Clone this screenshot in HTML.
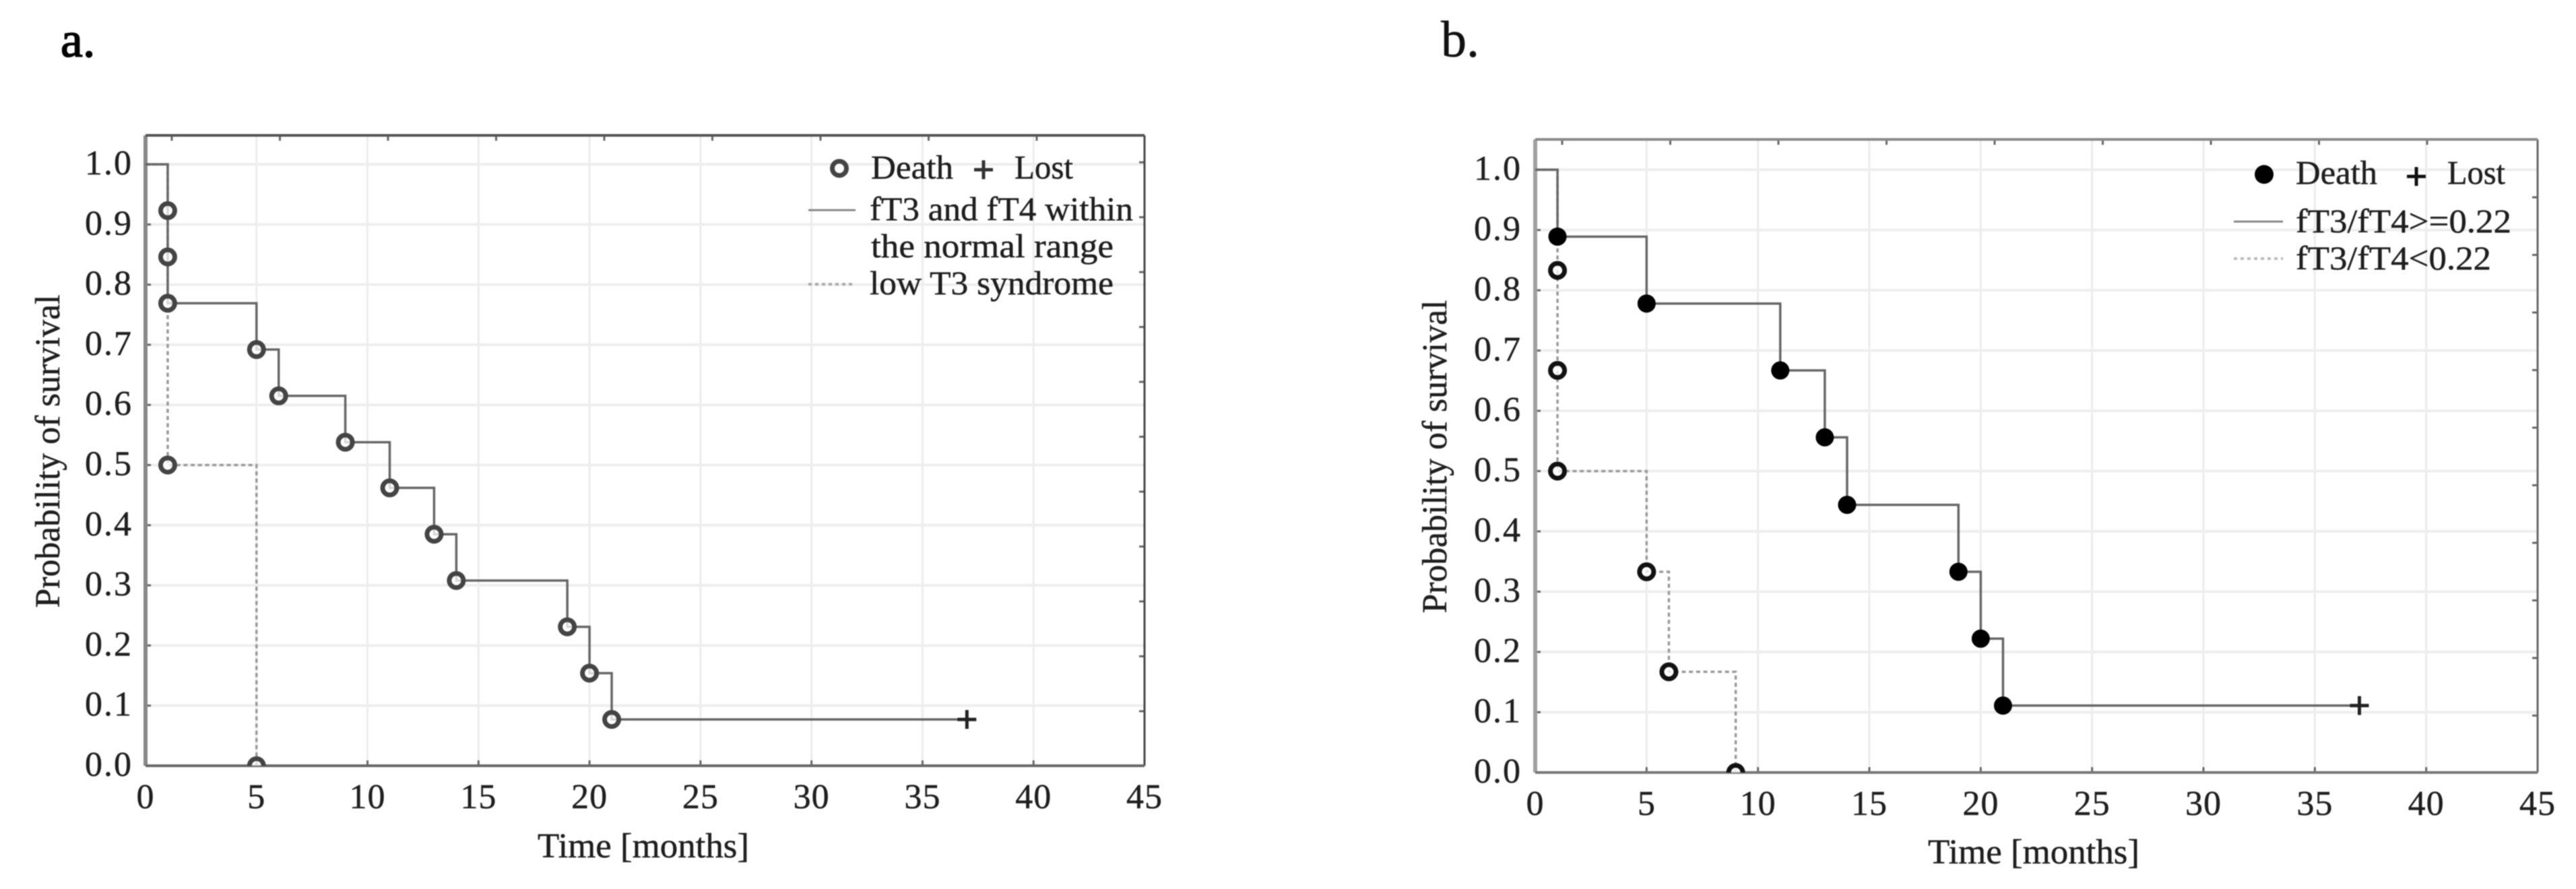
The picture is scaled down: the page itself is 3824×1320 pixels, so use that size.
<!DOCTYPE html>
<html lang="en">
<head>
<meta charset="utf-8">
<title>Survival curves</title>
<style>
html,body{margin:0;padding:0;background:#fff;width:3824px;height:1320px;overflow:hidden}
svg{display:block;filter:blur(0.9px)}
text{font-family:"Liberation Serif",serif;fill:#1e1e1e;stroke:#1e1e1e;stroke-width:.5px}
</style>
</head>
<body>
<svg id="figure" width="3824" height="1320" viewBox="0 0 3824 1320" xmlns="http://www.w3.org/2000/svg">
  <rect width="3824" height="1320" fill="#fff"/>
  <text x="90" y="84" font-size="74" style="fill:#000;stroke:#000;stroke-width:1.6px">a.</text>
  <text x="2139" y="84" font-size="76" style="fill:#111;stroke:#111;stroke-width:.6px">b.</text>
  <g id="chart-a"></g>
  <g id="chart-b"></g>

  <g>
    <circle cx="1246" cy="250" r="10.5" fill="#fff" stroke="#444" stroke-width="7"/>
    <text x="1293" y="265" font-size="50" textLength="122" lengthAdjust="spacingAndGlyphs">Death</text>
    <path d="M1446 252H1474M1460 238V266" stroke="#333" stroke-width="5" fill="none"/>
    <text x="1506" y="265" font-size="50" textLength="87" lengthAdjust="spacingAndGlyphs">Lost</text>
    <line x1="1200" y1="312" x2="1270" y2="312" stroke="#888" stroke-width="3"/>
    <text x="1291" y="327" font-size="50" textLength="391" lengthAdjust="spacingAndGlyphs">fT3 and fT4 within</text>
    <text x="1293" y="382" font-size="50" textLength="360" lengthAdjust="spacingAndGlyphs">the normal range</text>
    <line x1="1200" y1="422" x2="1270" y2="422" stroke="#aaa" stroke-width="4" stroke-dasharray="5 5"/>
    <text x="1291" y="437" font-size="50" textLength="362" lengthAdjust="spacingAndGlyphs">low T3 syndrome</text>
  </g>

  <g>
    <circle cx="3361" cy="259" r="14" fill="#000"/>
    <text x="3408" y="273" font-size="50" textLength="121" lengthAdjust="spacingAndGlyphs">Death</text>
    <path d="M3573 262H3601M3587 248V276" stroke="#111" stroke-width="5" fill="none"/>
    <text x="3633" y="273" font-size="50" textLength="86" lengthAdjust="spacingAndGlyphs">Lost</text>
    <line x1="3316" y1="329" x2="3389" y2="329" stroke="#888" stroke-width="3"/>
    <text x="3408" y="345" font-size="50" textLength="320" lengthAdjust="spacingAndGlyphs">fT3/fT4&gt;=0.22</text>
    <line x1="3316" y1="384" x2="3389" y2="384" stroke="#bbb" stroke-width="4" stroke-dasharray="5 5"/>
    <text x="3408" y="400" font-size="50" textLength="290" lengthAdjust="spacingAndGlyphs">fT3/fT4&lt;0.22</text>
  </g>
</svg>
<script>
var xTickValues = [0, 5, 10, 15, 20, 25, 30, 35, 40, 45];
var yTickValues = [0, 0.1, 0.2, 0.3, 0.4, 0.5, 0.6, 0.7, 0.8, 0.9, 1];
var xTickLabels = ['0', '5', '10', '15', '20', '25', '30', '35', '40', '45'];
var yTickLabels = ['0.0', '0.1', '0.2', '0.3', '0.4', '0.5', '0.6', '0.7', '0.8', '0.9', '1.0'];

var aSolidStepTimes = [0, 1, 5, 6, 9, 11, 13, 14, 19, 20, 21];
var aSolidStepValues = [1, 0.769, 0.692, 0.615, 0.538, 0.462, 0.385, 0.308, 0.231, 0.154, 0.077];
var aSolidEndTime = 37;
var aSolidDeathTimes = [1, 1, 1, 5, 6, 9, 11, 13, 14, 19, 20, 21];
var aSolidDeathValues = [0.923, 0.846, 0.769, 0.692, 0.615, 0.538, 0.462, 0.385, 0.308, 0.231, 0.154, 0.077];
var aDottedStepTimes = [0, 1, 5];
var aDottedStepValues = [1, 0.5, 0];
var aDottedDeathTimes = [1, 5];
var aDottedDeathValues = [0.5, 0];
var aLostTimes = [37];
var aLostValues = [0.077];

var bSolidStepTimes = [0, 1, 5, 11, 13, 14, 19, 20, 21];
var bSolidStepValues = [1, 0.889, 0.778, 0.667, 0.556, 0.444, 0.333, 0.222, 0.111];
var bSolidEndTime = 37;
var bSolidDeathTimes = [1, 5, 11, 13, 14, 19, 20, 21];
var bSolidDeathValues = [0.889, 0.778, 0.667, 0.556, 0.444, 0.333, 0.222, 0.111];
var bDottedStepTimes = [0, 1, 5, 6, 9];
var bDottedStepValues = [1, 0.5, 0.333, 0.167, 0];
var bDottedDeathTimes = [1, 1, 1, 5, 6, 9];
var bDottedDeathValues = [0.833, 0.667, 0.5, 0.333, 0.167, 0];
var bLostTimes = [37];
var bLostValues = [0.111];

var SVGNS = 'http://www.w3.org/2000/svg';

function make(parent, tag, attrs, content) {
  var node = document.createElementNS(SVGNS, tag);
  for (var key in attrs) { node.setAttribute(key, attrs[key]); }
  if (content !== undefined) { node.textContent = content; }
  parent.appendChild(node);
  return node;
}

function stepPath(times, values, endTime, xFn, yFn) {
  var d = 'M' + xFn(times[0]) + ' ' + yFn(values[0]);
  for (var i = 1; i < times.length; i++) {
    d += 'H' + xFn(times[i]) + 'V' + yFn(values[i]);
  }
  if (endTime !== null) { d += 'H' + xFn(endTime); }
  return d;
}

function drawChart(cfg) {
  var root = document.getElementById(cfg.id);
  var x = function (t) { return cfg.left + (t / 45) * (cfg.right - cfg.left); };
  var y = function (v) { return cfg.zeroY - v * cfg.unitY; };
  var el, i;

  var clip = make(root, 'clipPath', {id: cfg.id + '-clip'});
  make(clip, 'rect', {x: cfg.left, y: cfg.top, width: cfg.right - cfg.left, height: cfg.zeroY - cfg.top});

  for (i = 1; i < xTickValues.length - 1; i++) {
    el = make(root, 'line', {x1: x(xTickValues[i]), x2: x(xTickValues[i]), y1: cfg.top, y2: cfg.zeroY, stroke: '#ececec', 'stroke-width': 3});
    
    
  }
  for (i = 1; i < yTickValues.length; i++) {
    el = make(root, 'line', {x1: cfg.left, x2: cfg.right, y1: y(yTickValues[i]), y2: y(yTickValues[i]), stroke: '#eeeeee', 'stroke-width': 4});
    
    
  }

  for (i = 0; i < xTickValues.length; i++) {
    el = make(root, 'line', {x1: x(xTickValues[i]), x2: x(xTickValues[i]), y1: cfg.zeroY - 8, y2: cfg.zeroY, stroke: '#666', 'stroke-width': 3});
    
    
    el = make(root, 'text', {x: x(xTickValues[i]), y: cfg.xLabelY, 'font-size': 52, 'text-anchor': 'middle', 'letter-spacing': 1}, xTickLabels[i]);
    
    
  }
  for (i = 0; i < yTickValues.length; i++) {
    el = make(root, 'line', {x1: cfg.left, x2: cfg.left + 8, y1: y(yTickValues[i]), y2: y(yTickValues[i]), stroke: '#666', 'stroke-width': 3});
    
    
    el = make(root, 'text', {x: cfg.yLabelX, y: y(yTickValues[i]) + 15, 'font-size': 52, 'text-anchor': 'end', 'letter-spacing': 2}, yTickLabels[i]);
    
    
  }

  for (i = 0; i < cfg.topTickCount; i++) {
    el = make(root, 'line', {x1: cfg.topTickStart + i * cfg.topTickStep, x2: cfg.topTickStart + i * cfg.topTickStep, y1: cfg.top, y2: cfg.top + 8, stroke: '#666', 'stroke-width': 3});
    
    
  }
  for (i = 0; i < cfg.rightTickCount; i++) {
    el = make(root, 'line', {x1: cfg.right - 8, x2: cfg.right, y1: cfg.rightTickStart + i * cfg.rightTickStep, y2: cfg.rightTickStart + i * cfg.rightTickStep, stroke: '#666', 'stroke-width': 3});
    
    
  }

  el = make(root, 'line', {x1: cfg.left, x2: cfg.left, y1: cfg.top, y2: cfg.zeroY, stroke: cfg.leftAxisColor, 'stroke-width': 6});
  
  
  el = make(root, 'line', {x1: cfg.right, x2: cfg.right, y1: cfg.top, y2: cfg.zeroY, stroke: cfg.rightAxisColor, 'stroke-width': 3});
  
  
  el = make(root, 'line', {x1: cfg.left, x2: cfg.right, y1: cfg.top, y2: cfg.top, stroke: cfg.topAxisColor, 'stroke-width': 4});
  
  
  el = make(root, 'line', {x1: cfg.left, x2: cfg.right, y1: cfg.zeroY, y2: cfg.zeroY, stroke: cfg.bottomAxisColor, 'stroke-width': 4});
  
  

  el = make(root, 'path', {d: stepPath(cfg.dottedTimes, cfg.dottedValues, null, x, y), fill: 'none', stroke: '#999', 'stroke-width': 3.5, 'stroke-dasharray': '6 4.7'});
  
  
  el = make(root, 'path', {d: stepPath(cfg.solidTimes, cfg.solidValues, cfg.solidEnd, x, y), fill: 'none', stroke: '#666', 'stroke-width': 3.5});
  
  

  var markers = make(root, 'g', {'clip-path': 'url(#' + cfg.id + '-clip)'});
  
  
  for (i = 0; i < cfg.dottedDeathTimes.length; i++) {
    el = make(markers, 'circle', {cx: x(cfg.dottedDeathTimes[i]), cy: y(cfg.dottedDeathValues[i]), r: 10.5, fill: 'rgba(255,255,255,.75)', stroke: cfg.openStroke, 'stroke-width': 7});
    
    
  }
  for (i = 0; i < cfg.solidDeathTimes.length; i++) {
    el = make(markers, 'circle', {cx: x(cfg.solidDeathTimes[i]), cy: y(cfg.solidDeathValues[i]), r: cfg.solidR, fill: cfg.solidFill, stroke: cfg.solidStroke, 'stroke-width': cfg.solidStrokeWidth});
    
    
  }
  for (i = 0; i < cfg.lostTimes.length; i++) {
    var px = x(cfg.lostTimes[i]), py = y(cfg.lostValues[i]);
    el = make(root, 'path', {d: 'M' + (px - 14) + ' ' + py + 'H' + (px + 14) + 'M' + px + ' ' + (py - 14) + 'V' + (py + 14), fill: 'none', stroke: '#222', 'stroke-width': 5});
    
    
  }

  el = make(root, 'text', {x: cfg.xTitleX, y: cfg.xTitleY, 'font-size': 52, textLength: cfg.xTitleLen, lengthAdjust: 'spacingAndGlyphs'}, 'Time [months]');
  
  
  el = make(root, 'text', {x: 0, y: 0, 'font-size': 52, 'text-anchor': 'middle', textLength: 465, lengthAdjust: 'spacingAndGlyphs', transform: 'translate(' + cfg.yTitleX + ' ' + cfg.yTitleY + ') rotate(-90)'}, 'Probability of survival');
  
  
}

drawChart({
  id: 'chart-a', left: 216, right: 1699, top: 201, zeroY: 1137, unitY: 893,
  leftAxisColor: '#888', rightAxisColor: '#444', topAxisColor: '#555', bottomAxisColor: '#666',
  xLabelY: 1200, yLabelX: 197,
  topTickStart: 255, topTickStep: 160.5, topTickCount: 9,
  rightTickStart: 241, rightTickStep: 81.5, rightTickCount: 11,
  solidTimes: aSolidStepTimes, solidValues: aSolidStepValues, solidEnd: aSolidEndTime,
  solidDeathTimes: aSolidDeathTimes, solidDeathValues: aSolidDeathValues,
  dottedTimes: aDottedStepTimes, dottedValues: aDottedStepValues,
  dottedDeathTimes: aDottedDeathTimes, dottedDeathValues: aDottedDeathValues,
  lostTimes: aLostTimes, lostValues: aLostValues,
  openStroke: '#444', solidR: 10.5, solidFill: 'rgba(255,255,255,.75)', solidStroke: '#444', solidStrokeWidth: 7,
  xTitleX: 798, xTitleY: 1273, xTitleLen: 314, yTitleX: 88, yTitleY: 670
});

drawChart({
  id: 'chart-b', left: 2279, right: 3767, top: 207, zeroY: 1147, unitY: 895,
  leftAxisColor: '#a0a0a0', rightAxisColor: '#666', topAxisColor: '#8a8a8a', bottomAxisColor: '#777',
  xLabelY: 1210, yLabelX: 2259,
  topTickStart: 2319, topTickStep: 160.5, topTickCount: 9,
  rightTickStart: 293, rightTickStep: 85.5, rightTickCount: 10,
  solidTimes: bSolidStepTimes, solidValues: bSolidStepValues, solidEnd: bSolidEndTime,
  solidDeathTimes: bSolidDeathTimes, solidDeathValues: bSolidDeathValues,
  dottedTimes: bDottedStepTimes, dottedValues: bDottedStepValues,
  dottedDeathTimes: bDottedDeathTimes, dottedDeathValues: bDottedDeathValues,
  lostTimes: bLostTimes, lostValues: bLostValues,
  openStroke: '#111', solidR: 13, solidFill: '#000', solidStroke: '#000', solidStrokeWidth: 1,
  xTitleX: 2862, xTitleY: 1282, xTitleLen: 314, yTitleX: 2147, yTitleY: 678
});
</script>
</body>
</html>
